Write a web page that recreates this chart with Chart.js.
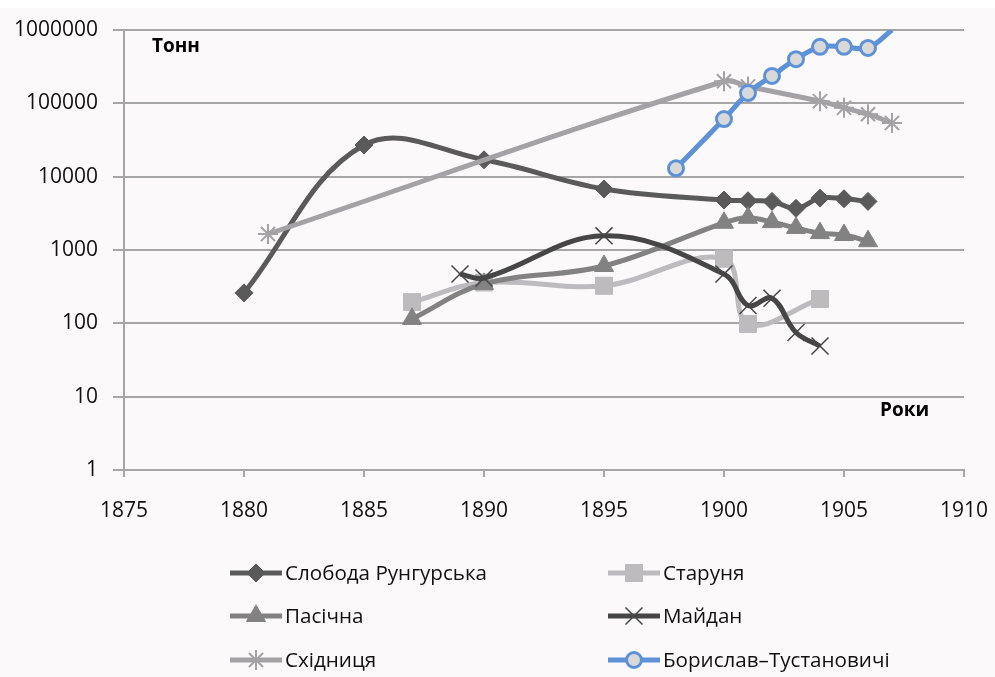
<!DOCTYPE html>
<html>
<head>
<meta charset="utf-8">
<script src="https://cdn.jsdelivr.net/npm/chart.js@4.4.0/dist/chart.umd.min.js"></script>
<style>
    html, body { margin: 0; padding: 0; background: #fbf9fa; }
    #wrap { position: relative; width: 995px; height: 677px; }
    #topStrip { position: absolute; left: 0; top: 0; width: 995px; height: 8px; background: #ffffff; }
</style>
</head>
<body>
<div id="wrap">
    <canvas id="chart" width="995" height="677"></canvas>
    <div id="topStrip"></div>
</div>
<script>
// series data (years, tonnes)
var slobodaYears = [1880, 1885, 1890, 1895, 1900, 1901, 1902, 1903, 1904, 1905, 1906];
var slobodaValues = [260, 27000, 17000, 6800, 4800, 4700, 4600, 3700, 5100, 5000, 4600];

var starunyaYears = [1887, 1890, 1895, 1900, 1901, 1904];
var starunyaValues = [195, 360, 325, 760, 98, 215];

var pasichnaYears = [1887, 1890, 1895, 1900, 1901, 1902, 1903, 1904, 1905, 1906];
var pasichnaValues = [115, 345, 605, 2350, 2750, 2400, 2000, 1700, 1600, 1320];

var maidanYears = [1889, 1890, 1895, 1900, 1901, 1902, 1903, 1904];
var maidanValues = [470, 415, 1560, 470, 175, 220, 75, 49];

var skhidnytsiaYears = [1881, 1900, 1901, 1904, 1905, 1906, 1907];
var skhidnytsiaValues = [1650, 200000, 170000, 107000, 87000, 71000, 54000];

var boryslavYears = [1898, 1900, 1901, 1902, 1903, 1904, 1905, 1906, 1907];
var boryslavValues = [13000, 61000, 138000, 236000, 400000, 590000, 590000, 570000, 1000000];

var seriesNames = ['Слобода Рунгурська', 'Старуня', 'Пасічна', 'Майдан', 'Східниця', 'Борислав–Тустановичі'];
var xTicks = [1875, 1880, 1885, 1890, 1895, 1900, 1905, 1910];
var yTicks = [1, 10, 100, 1000, 10000, 100000, 1000000];

var FONT = '"Open Sans", "DejaVu Sans", sans-serif';

function toPoints(years, values) {
    return years.map(function(y, i) { return { x: y, y: values[i] }; });
}

var datasets = [
    {
        label: seriesNames[0],
        data: toPoints(slobodaYears, slobodaValues),
        borderColor: '#5a5a5a',
        backgroundColor: '#5a5a5a',
        pointStyle: 'rectRot',
        pointRadius: 9,
        pointBorderWidth: 1,
        order: 5
    },
    {
        label: seriesNames[1],
        data: toPoints(starunyaYears, starunyaValues),
        borderColor: '#bdbbbd',
        backgroundColor: '#bdbbbd',
        pointStyle: 'rect',
        pointRadius: 12,
        pointBorderWidth: 1,
        order: 4
    },
    {
        label: seriesNames[2],
        data: toPoints(pasichnaYears, pasichnaValues),
        borderColor: '#828282',
        backgroundColor: '#828282',
        pointStyle: 'triangle',
        pointRadius: 11,
        pointBorderWidth: 1,
        order: 3
    },
    {
        label: seriesNames[3],
        data: toPoints(maidanYears, maidanValues),
        borderColor: '#464646',
        backgroundColor: '#464646',
        pointStyle: 'crossRot',
        pointRadius: 12,
        pointBorderWidth: 1.5,
        order: 2
    },
    {
        label: seriesNames[4],
        data: toPoints(skhidnytsiaYears, skhidnytsiaValues),
        borderColor: '#a4a2a4',
        backgroundColor: '#a4a2a4',
        pointStyle: 'star',
        pointRadius: 10,
        pointBorderWidth: 2,
        order: 1
    },
    {
        label: seriesNames[5],
        data: toPoints(boryslavYears, boryslavValues),
        borderColor: '#5d92d6',
        backgroundColor: '#d9d9d9',
        pointBorderColor: '#5d92d6',
        pointStyle: 'circle',
        pointRadius: [7.5, 7.5, 7.5, 7.5, 7.5, 7.5, 7.5, 7.5, 0],
        pointBorderWidth: 3,
        order: 0
    }
];

datasets.forEach(function(ds) {
    ds.borderWidth = 5;
    ds.tension = 0.38;
    ds.fill = false;
    if (!ds.pointBorderColor) ds.pointBorderColor = ds.borderColor;
    ds.pointBackgroundColor = ds.backgroundColor;
});

// axis titles + two-column legend drawn on the canvas
var extrasPlugin = {
    id: 'extras',
    afterDraw: function(chart) {
        var ctx = chart.ctx;
        ctx.save();
        ctx.fillStyle = '#000000';
        ctx.font = 'bold 19px ' + FONT;
        ctx.textBaseline = 'middle';
        ctx.textAlign = 'left';
        ctx.fillText('Тонн', 152, 47);
        ctx.fillText('Роки', 880, 411);

        var cols = [230, 608];
        var rows = [573, 616, 660];
        ctx.font = '20.6px ' + FONT;
        chart.data.datasets.forEach(function(ds, i) {
            var x0 = cols[i % 2];
            var y0 = rows[Math.floor(i / 2)];
            ctx.strokeStyle = ds.borderColor;
            ctx.lineWidth = 5;
            ctx.lineCap = 'butt';
            ctx.beginPath();
            ctx.moveTo(x0, y0);
            ctx.lineTo(x0 + 52, y0);
            ctx.stroke();
            ctx.fillStyle = ds.pointBackgroundColor;
            ctx.strokeStyle = ds.pointBorderColor;
            ctx.lineWidth = ds.pointBorderWidth;
            var r = Array.isArray(ds.pointRadius) ? ds.pointRadius[0] : ds.pointRadius;
            Chart.helpers.drawPoint(ctx, { pointStyle: ds.pointStyle, radius: r, rotation: 0, borderWidth: ds.pointBorderWidth }, x0 + 26, y0);
            ctx.fillStyle = '#111111';
            ctx.fillText(ds.label, x0 + 55, y0 + 1);
        });
        ctx.restore();
    }
};

new Chart(document.getElementById('chart'), {
    type: 'line',
    data: { datasets: datasets },
    plugins: [extrasPlugin],
    options: {
        responsive: false,
        animation: false,
        layout: { padding: { left: 0, right: 31, top: 30, bottom: 0 } },
        plugins: {
            legend: { display: false },
            tooltip: { enabled: false }
        },
        scales: {
            x: {
                type: 'linear',
                min: 1875,
                max: 1910,
                afterBuildTicks: function(axis) {
                    axis.ticks = xTicks.map(function(v) { return { value: v }; });
                },
                afterFit: function(axis) {
                    axis.height = 207;
                    axis.paddingLeft = 0;
                    axis.paddingRight = 0;
                },
                ticks: {
                    color: '#111111',
                    font: { family: FONT, size: 21 },
                    padding: 21,
                    maxRotation: 0,
                    callback: function(v) { return String(v); }
                },
                grid: {
                    drawOnChartArea: false,
                    drawTicks: true,
                    tickLength: 7,
                    color: '#a6a6a6',
                    lineWidth: 2
                },
                border: { display: true, color: '#a6a6a6', width: 2 }
            },
            y: {
                type: 'logarithmic',
                min: 1,
                max: 1000000,
                afterBuildTicks: function(axis) {
                    axis.ticks = yTicks.map(function(v) { return { value: v }; });
                },
                afterFit: function(axis) {
                    axis.width = 124;
                    axis.paddingTop = 0;
                    axis.paddingBottom = 0;
                },
                ticks: {
                    color: '#111111',
                    font: { family: FONT, size: 21 },
                    padding: 15,
                    callback: function(v) { return String(v); }
                },
                grid: {
                    drawTicks: true,
                    tickLength: 11,
                    color: '#a6a6a6',
                    lineWidth: 2
                },
                border: { display: true, color: '#a6a6a6', width: 2 }
            }
        }
    }
});
</script>
</body>
</html>
